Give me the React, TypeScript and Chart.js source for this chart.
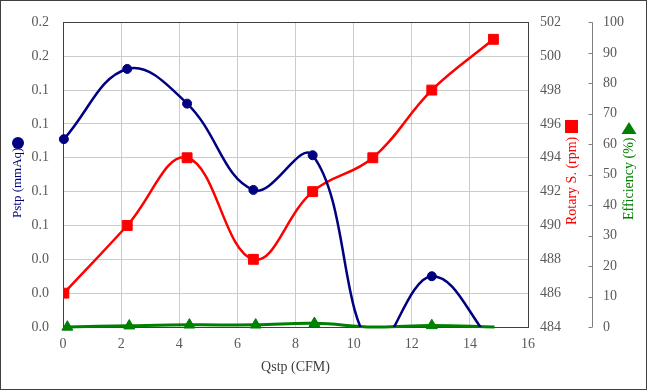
import React, { useEffect, useRef } from "react";
import { Chart, registerables } from "chart.js";

Chart.register(...registerables);

// Data
const qstpMain = [0.03, 2.21, 4.27, 6.55, 8.59, 10.66, 12.69, 14.81];
const pstpValues = [0.111, 0.1525, 0.132, 0.081, 0.1015, -0.012, 0.03, -0.01];
const rpmValues = [486, 490, 494, 488, 492, 494, 498, 501];
const qstpEff = [0.15, 2.28, 4.35, 6.63, 8.65, 10.7, 12.69, 14.85];
const effValues = [0, 0.4, 0.7, 0.7, 1.2, 0, 0.5, 0];
const effMarkerShown = [true, true, true, true, true, false, true, false];

const xTitle = "Qstp (CFM)";
const pstpTitle = "Pstp (mmAq)";
const rpmTitle = "Rotary S. (rpm)";
const effTitle = "Efficiency (%)";

const FONT = '"Liberation Serif", "Times New Roman", serif';
const TICK_COLOR = "#595959";
const GRID_COLOR = "#cccccc";

const deco = {
  id: "deco",
  beforeDatasetsDraw(chart: any) {
    const { ctx, chartArea: a } = chart;
    ctx.save();
    ctx.strokeStyle = "#404040";
    ctx.lineWidth = 1;
    ctx.strokeRect(
      Math.round(a.left) + 0.5,
      Math.round(a.top) + 0.5,
      Math.round(a.right - a.left),
      Math.round(a.bottom - a.top)
    );
    const s = chart.scales.y3;
    const x = Math.round(s.left) + 0.5;
    ctx.strokeStyle = "#7f7f7f";
    ctx.beginPath();
    ctx.moveTo(x, s.getPixelForValue(100));
    ctx.lineTo(x, s.getPixelForValue(0));
    for (const t of s.ticks) {
      const y = Math.round(s.getPixelForValue(t.value)) + 0.5;
      ctx.moveTo(x - 4, y);
      ctx.lineTo(x, y);
    }
    ctx.stroke();
    ctx.restore();
  },
  afterDraw(chart: any) {
    const { ctx, width, height, chartArea: a } = chart;
    ctx.save();
    // outer frame
    ctx.strokeStyle = "#404040";
    ctx.lineWidth = 1;
    ctx.strokeRect(0.5, 0.5, width - 1, height - 1);

    ctx.font = `14px ${FONT}`;
    ctx.textBaseline = "middle";
    // x title
    ctx.fillStyle = "#404040";
    ctx.textAlign = "center";
    ctx.fillText(xTitle, (a.left + a.right) / 2, 367);

    // left title
    ctx.save();
    ctx.fillStyle = "#000080";
    ctx.font = `13px ${FONT}`;
    ctx.translate(18, 218);
    ctx.rotate(-Math.PI / 2);
    ctx.textAlign = "left";
    ctx.fillText(pstpTitle, 0, 0);
    ctx.restore();
    ctx.fillStyle = "#000080";
    ctx.beginPath();
    ctx.arc(18, 143, 6, 0, Math.PI * 2);
    ctx.fill();

    // rpm title
    ctx.save();
    ctx.fillStyle = "#ff0000";
    ctx.translate(572, 225);
    ctx.rotate(-Math.PI / 2);
    ctx.textAlign = "left";
    ctx.fillText(rpmTitle, 0, 0);
    ctx.restore();
    ctx.fillStyle = "#ff0000";
    ctx.fillRect(565, 120, 13, 13);

    // efficiency title
    ctx.save();
    ctx.fillStyle = "#008000";
    ctx.translate(629, 220);
    ctx.rotate(-Math.PI / 2);
    ctx.textAlign = "left";
    ctx.fillText(effTitle, 0, 0);
    ctx.restore();
    ctx.fillStyle = "#008000";
    ctx.beginPath();
    ctx.moveTo(629, 122);
    ctx.lineTo(636.5, 134);
    ctx.lineTo(621.5, 134);
    ctx.closePath();
    ctx.fill();

    ctx.restore();
  },
};

export default function App() {
  const ref = useRef<HTMLCanvasElement | null>(null);

  useEffect(() => {
    document.body.style.margin = "0";
    const canvas = ref.current!;
    const tickFont = { family: FONT, size: 14 };
    const chart = new Chart(canvas, {
      type: "line",
      data: {
        datasets: [
          {
            label: "Pstp",
            data: qstpMain.map((x, i) => ({ x, y: pstpValues[i] })),
            yAxisID: "y",
            borderColor: "#000080",
            backgroundColor: "#000080",
            borderWidth: 2.5,
            pointStyle: "circle",
            pointRadius: 4.5,
            pointBorderWidth: 1,
            tension: 0.4,
            clip: { left: 10, right: 10, top: 10, bottom: 0 } as any,
          },
          {
            label: "Rotary",
            data: qstpMain.map((x, i) => ({ x, y: rpmValues[i] })),
            yAxisID: "y2",
            borderColor: "#ff0000",
            backgroundColor: "#ff0000",
            borderWidth: 2.5,
            pointStyle: "rect",
            pointRadius: 7,
            pointBorderWidth: 1,
            tension: 0.4,
          },
          {
            label: "Efficiency",
            data: qstpEff.map((x, i) => ({ x, y: effValues[i] })),
            yAxisID: "y3",
            borderColor: "#008000",
            backgroundColor: "#008000",
            borderWidth: 3,
            pointStyle: "triangle",
            pointRadius: effMarkerShown.map((s) => (s ? 6.3 : 0)),
            pointBorderWidth: 1,
            tension: 0.4,
            clip: 10 as any,
          },
        ],
      },
      options: {
        animation: false,
        responsive: false,
        devicePixelRatio: 1,
        layout: { padding: { top: 19, left: 0, right: 0, bottom: 0 } },
        elements: { line: { capBezierPoints: false } },
        plugins: { legend: { display: false }, tooltip: { enabled: false } },
        scales: {
          x: {
            type: "linear",
            min: 0,
            max: 16,
            ticks: { stepSize: 2, font: tickFont, color: TICK_COLOR, padding: 9, maxRotation: 0 },
            grid: { color: GRID_COLOR, drawTicks: false },
            border: { display: false },
            afterFit: (s: any) => {
              s.height = 63;
            },
          },
          y: {
            position: "left",
            min: 0,
            max: 0.18,
            ticks: {
              stepSize: 0.02,
              font: tickFont,
              color: TICK_COLOR,
              padding: 14,
              callback: (v: any) => Number(v).toFixed(1),
            },
            grid: { color: GRID_COLOR, drawTicks: false },
            border: { display: false },
            afterFit: (s: any) => {
              s.width = 63;
            },
          },
          y2: {
            position: "right",
            min: 484,
            max: 502,
            ticks: { stepSize: 2, font: tickFont, color: TICK_COLOR, padding: 12 },
            grid: { display: false, drawTicks: false },
            border: { display: false },
            afterFit: (s: any) => {
              s.width = 64;
            },
          },
          y3: {
            position: "right",
            min: 0,
            max: 100,
            ticks: { stepSize: 10, font: tickFont, color: TICK_COLOR, padding: 11 },
            grid: { display: false, drawTicks: false },
            border: { display: false },
            afterFit: (s: any) => {
              s.width = 55;
            },
          },
        },
      },
      plugins: [deco],
    } as any);
    return () => chart.destroy();
  }, []);

  return (
    <div style={{ position: "fixed", left: 0, top: 0, width: 647, height: 390, background: "#fff" }}>
      <canvas ref={ref} width={647} height={390} style={{ width: 647, height: 390, display: "block" }} />
    </div>
  );
}
